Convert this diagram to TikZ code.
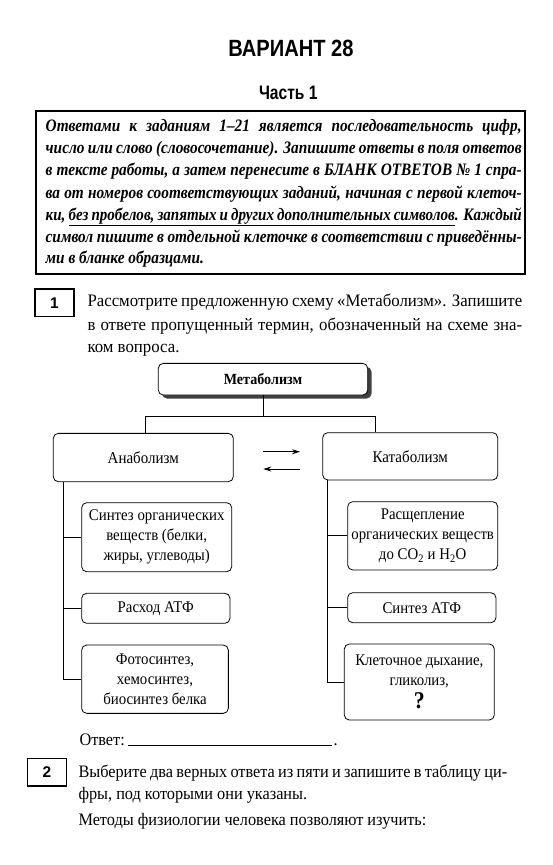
\documentclass[tikz,border=0pt]{standalone}
\usepackage{fontspec}
\setmainfont[FakeStretch=0.91]{Liberation Serif}
\newfontfamily\taskAfont[FakeStretch=0.96]{Liberation Serif}
\newfontfamily\taskBfont[FakeStretch=0.93]{Liberation Serif}
\newfontfamily\instrfont[FakeStretch=0.875]{Liberation Serif}
\newfontfamily\instrfontB[FakeStretch=0.86]{Liberation Serif}
\newfontfamily\titlesans[FakeStretch=0.855]{Liberation Sans}
\newfontfamily\headsans[FakeStretch=0.8]{Liberation Sans}
\newfontfamily\numsans{Liberation Sans}
\usetikzlibrary{arrows.meta,shadows}
\newsavebox\ulbox
\newcommand\ulw[1]{\sbox\ulbox{#1}\rlap{\vrule height -4.6pt depth 5.5pt width \wd\ulbox}\usebox\ulbox}
\newcommand\ulsp{\leaders\hrule height -4.6pt depth 5.5pt\hskip\fontdimen2\font plus \fontdimen3\font minus \fontdimen4\font\relax}
\begin{document}
\begin{tikzpicture}[x=1pt,y=-1pt,
  box/.style={draw, rounded corners=5pt, line width=0.8pt, align=center, inner sep=0pt,
    font=\fontsize{16.3}{20}\selectfont},
  conn/.style={line width=0.8pt},
  txtA/.style={anchor=base west, inner sep=0pt, font=\fontsize{17.5}{20}\selectfont\taskAfont},
  txtB/.style={anchor=base west, inner sep=0pt, font=\fontsize{17.5}{20}\selectfont\taskBfont},
  instr/.style={anchor=base west, inner sep=0pt, font=\fontsize{17.5}{20}\selectfont\instrfont\bfseries\itshape},
  numbox/.style={draw, line width=1.3pt, minimum width=39pt, minimum height=27.5pt, inner sep=0pt,
    font=\fontsize{15.5}{16}\selectfont\numsans\bfseries},
  arr/.style={line width=0.9pt, -{Stealth[length=8pt,width=5pt]}}
]
\useasboundingbox (0,0) rectangle (553,865);
\fill[white] (0,0) rectangle (553,865);

% headings
\node[inner sep=0pt, anchor=base, font=\fontsize{23.5}{24}\selectfont\titlesans\bfseries] (title) at (291,56.7) {ВАРИАНТ 28};
\node[inner sep=0pt, anchor=base, font=\fontsize{19.5}{20}\selectfont\headsans\bfseries] (part) at (288.3,99) {Часть 1};

% instruction box
\draw[line width=1.1pt] (36,111) rectangle (525,274);
\node[instr] (i1) at (45.5,131.7) {\makebox[476pt][s]{Ответами к заданиям 1–21 является последовательность цифр,}};
\node[instr] (i2) at (45.5,153.3) {\makebox[476pt][s]{число или слово (словосочетание). Запишите ответы в поля ответов}};
\node[instr] (i3) at (45.5,175.7) {\makebox[476pt][s]{в тексте работы, а затем перенесите в БЛАНК ОТВЕТОВ №~1 спра-}};
\node[instr] (i4) at (45.5,198.3) {\makebox[476pt][s]{ва от номеров соответствующих заданий, начиная с первой клеточ-}};
\node[instr, font=\fontsize{17.5}{20}\selectfont\instrfontB\bfseries\itshape] (i5) at (45.5,220) {\makebox[476pt][s]{ки, \ulw{без}\ulsp\ulw{пробелов,}\ulsp\ulw{запятых}\ulsp\ulw{и}\ulsp\ulw{других}\ulsp\ulw{дополнительных}\ulsp\ulw{символов}. Каждый}};
\node[instr] (i6) at (45.5,242.3) {\makebox[476pt][s]{символ пишите в отдельной клеточке в соответствии с приведённы-}};
\node[instr] (i7) at (45.5,263.3) {ми в бланке образцами.};

% task 1
\node[numbox] (n1) at (54.5,302.7) {1};
\node[txtA] (t1a) at (87.3,306.7) {\makebox[434.7pt][s]{Рассмотрите предложенную схему «Метаболизм». Запишите}};
\node[txtA] (t1b) at (87.3,330) {\makebox[434.7pt][s]{в ответе пропущенный термин, обозначенный на схеме зна-}};
\node[txtA] (t1c) at (87.3,352) {ком вопроса.};

% scheme
\node[box, minimum width=209.4pt, minimum height=31.7pt, fill=white,
  font=\fontsize{15.5}{19}\selectfont\bfseries,
  drop shadow={shadow xshift=3.8pt, shadow yshift=-3.5pt, fill=black!75, opacity=1}] (meta) at (263,379.2) {Метаболизм};
\node[box, minimum width=180pt, minimum height=48.3pt, font=\fontsize{16.5}{19}\selectfont] (ana) at (143.3,457.5) {Анаболизм};
\node[box, minimum width=175pt, minimum height=47.3pt, font=\fontsize{16.5}{19}\selectfont] (kata) at (410.2,456.3) {Катаболизм};

\node[box, minimum width=150pt, minimum height=69pt] (la1) at (156.7,537.2) {Синтез органических\\веществ (белки,\\жиры, углеводы)};
\node[box, minimum width=148.3pt, minimum height=30pt] (la2) at (155.8,608.3) {Расход АТФ};
\node[box, minimum width=146.7pt, minimum height=68.3pt] (la3) at (155,679.2) {Фотосинтез,\\хемосинтез,\\биосинтез белка};

\node[box, minimum width=150pt, minimum height=68.3pt] (ka1) at (422.7,535.8) {Расщепление\\органических веществ\\до CO\textsubscript{2} и H\textsubscript{2}O};
\node[box, minimum width=148.3pt, minimum height=30pt] (ka2) at (421.8,607.7) {Синтез АТФ};
\node[box, minimum width=150pt, minimum height=76pt] (ka3) at (419.3,682) {Клеточное дыхание,\\гликолиз,\\[3pt]{\fontsize{24}{22}\selectfont\bfseries ?}};

% connectors
\coordinate (j) at (263,416.7);
\draw[conn] (meta.south) -- (j);
\draw[conn] ([xshift=2.4pt]ana.north) |- (j) -| ([xshift=-35pt]kata.north);

\coordinate (lt) at (63.5,481.7);
\draw[conn] (lt) |- (la3.west);
\draw[conn] (la1.west) -- (la1.west -| lt);
\draw[conn] (la2.west) -- (la2.west -| lt);

\coordinate (rt) at (327.7,480);
\draw[conn] (rt) |- (ka3.west);
\draw[conn] (ka1.west) -- (ka1.west -| rt);
\draw[conn] (ka2.west) -- (ka2.west -| rt);

\coordinate (a1s) at (263.3,451.7);
\coordinate (a1e) at (300,451.7);
\coordinate (a2s) at (300,469);
\coordinate (a2e) at (263.3,469);
\draw[arr] (a1s) -- (a1e);
\draw[arr] (a2s) -- (a2e);

% answer line
\node[txtB] (otv) at (79.3,745) {Ответ:};
\coordinate (u1) at (128.3,745);
\coordinate (u2) at (332,745);
\draw[line width=0.7pt] (u1) -- (u2);
\node[txtB] (dot) at (333.5,745) {.};

% task 2
\node[numbox] (n2) at (47,772.2) {2};
\node[txtB] (t2a) at (78.3,777.3) {\makebox[428.7pt][s]{Выберите два верных ответа из пяти и запишите в таблицу ци-}};
\node[txtB] (t2b) at (78.3,799) {фры, под которыми они указаны.};
\node[txtB] (t2c) at (78.3,825) {Методы физиологии человека позволяют изучить:};
\end{tikzpicture}
\end{document}
